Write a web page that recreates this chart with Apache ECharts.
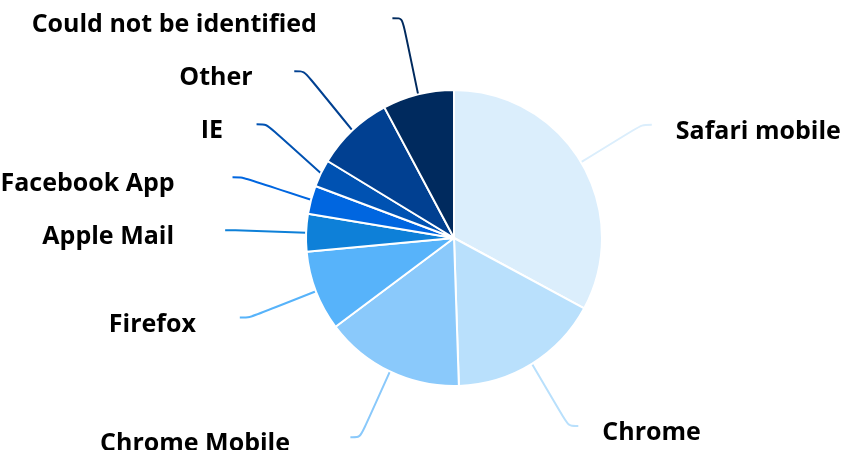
<!DOCTYPE html>
<html>
<head>
<meta charset="utf-8">
<script src="https://cdn.jsdelivr.net/npm/echarts@6/dist/echarts.min.js"></script>
<style>html,body{margin:0;padding:0;background:#fff}#c{width:843px;height:450px}</style>
</head>
<body>
<div id="c"></div>
<script>
const categories = ['Safari mobile', 'Chrome', 'Chrome Mobile', 'Firefox', 'Apple Mail', 'Facebook App', 'IE', 'Other', 'Could not be identified'];
const shares = [32.9, 16.6, 15.3, 8.75, 4.1, 3.1, 3.0, 8.5, 7.8];
const colors = ['#dbeefc', '#b9e0fc', '#8ac9fb', '#57b3fa', '#0e80d8', '#0066e0', '#0052b2', '#014091', '#002a5e'];

// geometry / label layout settings
const CX = 454, CY = 238, RADIUS = 148, LABEL_DIST = 73, LEN2 = 8, SPACING = 53;
const LINE_H = 30, PAD_TOP = 14;
const FONT = 'bold 25px "Open Sans"';
const ctx = document.createElement('canvas').getContext('2d');
ctx.font = FONT;

const total = shares.reduce((a, b) => a + b, 0);
const R = RADIUS + LABEL_DIST;
let acc = 0;
const pos = categories.map((n, i) => {
  const mid = (acc + shares[i] / 2) / total * 2 * Math.PI;
  acc += shares[i];
  const s = Math.sin(mid), c = Math.cos(mid);
  const left = s < 0;
  return {left: left, x: CX + s * R, y: CY - c * R, y0: CY - c * R, w: ctx.measureText(n).width};
});
// push overlapping labels upward on each side (bottom first)
[true, false].forEach(side => {
  const idx = pos.map((p, i) => i).filter(i => pos[i].left === side).sort((a, b) => pos[b].y - pos[a].y);
  for (let k = 1; k < idx.length; k++) {
    pos[idx[k]].y = Math.min(pos[idx[k]].y, pos[idx[k - 1]].y - SPACING);
  }
});
pos.forEach(p => {
  const dir = p.left ? -1 : 1;
  if (p.y0 - p.y > 7) {
    const dy = p.y - CY;
    p.x = CX + dir * Math.sqrt(Math.max(R * R - dy * dy, 0));
  }
  p.x += dir * LEN2;
});

const data = categories.map((n, i) => {
  const p = pos[i];
  const gap = p.left ? 30 + 0.16 * p.w : 24;
  return {
    name: n,
    value: shares[i],
    itemStyle: {color: colors[i]},
    label: {padding: p.left ? [PAD_TOP, gap, 0, 0] : [PAD_TOP, 0, 0, gap]},
    labelLine: {lineStyle: {color: colors[i]}}
  };
});

const chart = echarts.init(document.getElementById('c'), null, {renderer: 'canvas'});
chart.setOption({
  animation: false,
  series: [{
    type: 'pie',
    center: [CX, CY],
    radius: RADIUS,
    startAngle: 90,
    clockwise: true,
    avoidLabelOverlap: false,
    data: data,
    itemStyle: {borderColor: '#fff', borderWidth: 2},
    label: {
      show: true,
      position: 'outside',
      formatter: '{b}',
      fontFamily: 'Open Sans',
      fontWeight: 'bold',
      fontSize: 25,
      color: '#000',
      lineHeight: LINE_H,
      overflow: 'none'
    },
    labelLine: {
      show: true,
      length: LABEL_DIST,
      length2: 10,
      smooth: 0.3,
      lineStyle: {width: 2}
    },
    labelLayout: function (params) {
      const p = pos[params.dataIndex];
      return {x: p.x, y: p.y - (LINE_H + PAD_TOP) / 2, align: p.left ? 'right' : 'left', verticalAlign: 'top'};
    }
  }]
});
</script>
</body>
</html>
